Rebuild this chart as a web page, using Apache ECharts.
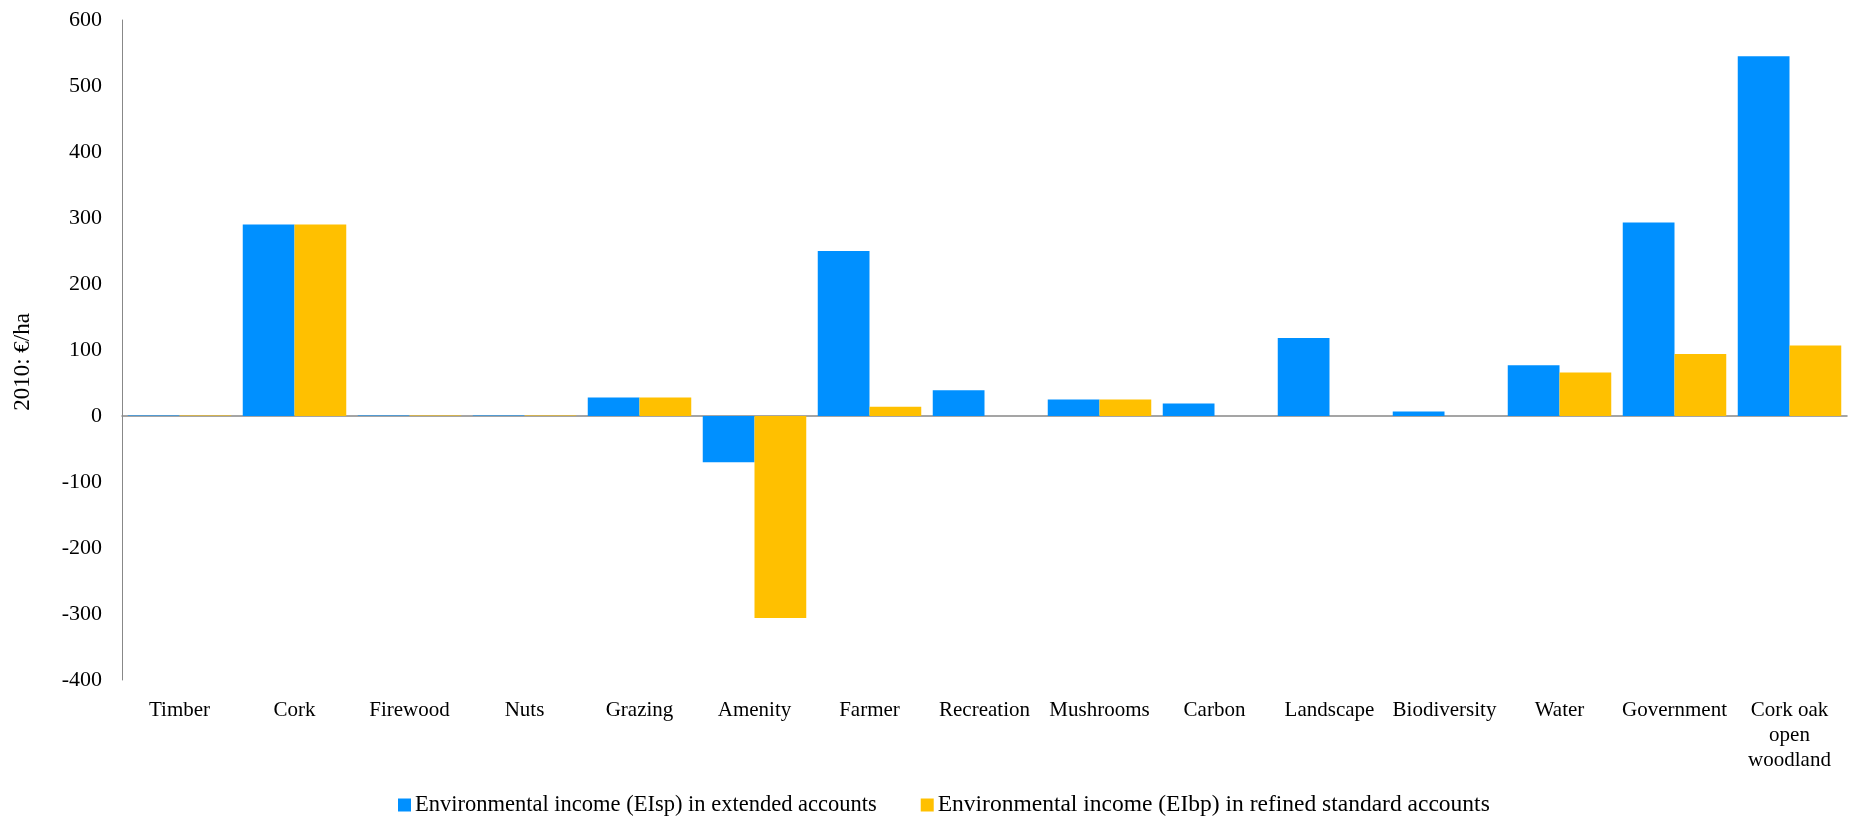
<!DOCTYPE html>
<html>
<head>
<meta charset="utf-8">
<script src="https://cdn.jsdelivr.net/npm/echarts@6/dist/echarts.min.js"></script>
<style>
html,body{margin:0;padding:0;background:#fff;}
#chart{width:1854px;height:816px;}
</style>
</head>
<body>
<div id="chart"></div>
<script>
const categories = ['Timber','Cork','Firewood','Nuts','Grazing','Amenity','Farmer','Recreation','Mushrooms','Carbon','Landscape','Biodiversity','Water','Government','Cork oak open woodland'];
const extendedValues = [0.8, 290, 0.8, 0.8, 28, -70, 250, 39, 25, 19, 118, 7, 77, 293, 545];
const refinedValues = [0.8, 290, 0.8, 0.8, 28, -306, 14, 0, 25, 0, 0, 0, 66, 94, 107];
const seriesNames = ['Environmental income (EIsp) in extended accounts','Environmental income (EIbp) in refined standard accounts'];
const yTicks = {min: -400, max: 600, interval: 100};
const yTitle = '2010: €/ha';

const font = 'Liberation Serif';
const chart = echarts.init(document.getElementById('chart'));
chart.setOption({
  animation: false,
  backgroundColor: '#ffffff',
  textStyle: {fontFamily: font, color: '#000'},
  grid: {left: 122, right: 7, top: 20, bottom: 136, containLabel: false},
  legend: {
    left: 393, top: 788,
    itemWidth: 13, itemHeight: 13, itemGap: 44,
    icon: 'rect',
    textStyle: {fontFamily: font, fontSize: 22.5, color: '#000', padding: [0,0,0,-1]},
    data: [
      {name: seriesNames[0]},
      {name: seriesNames[1], textStyle: {fontSize: 23.5}}
    ]
  },
  xAxis: [
    {
      type: 'category', data: categories, position: 'bottom',
      axisLine: {show: false, onZero: false},
      axisTick: {show: false},
      axisLabel: {
        fontFamily: font, fontSize: 21, color: '#000', margin: 18, lineHeight: 25,
        interval: 0,
        formatter: v => v === 'Cork oak open woodland' ? 'Cork oak\nopen\nwoodland' : v
      }
    },
    {
      type: 'category', data: categories, position: 'bottom',
      axisLine: {show: true, onZero: true, lineStyle: {color: '#888', width: 1.5}},
      axisTick: {show: false}, axisLabel: {show: false}
    }
  ],
  yAxis: {
    type: 'value', min: yTicks.min, max: yTicks.max, interval: yTicks.interval,
    name: yTitle, nameLocation: 'middle', nameGap: 88, nameRotate: 90,
    nameTextStyle: {fontFamily: font, fontSize: 23, color: '#000', padding: [0,0,0,-24]},
    axisLine: {show: true, lineStyle: {color: '#888', width: 1}},
    axisTick: {show: false},
    splitLine: {show: false},
    axisLabel: {fontFamily: font, fontSize: 22, color: '#000', margin: 20}
  },
  series: [
    {name: seriesNames[0], type: 'bar', data: extendedValues, xAxisIndex: 0,
     barGap: '0%', barCategoryGap: '10%', itemStyle: {color: '#0090FF'}},
    {name: seriesNames[1], type: 'bar', data: refinedValues, xAxisIndex: 0,
     barGap: '0%', barCategoryGap: '10%', itemStyle: {color: '#FFC000'}}
  ]
});
</script>
</body>
</html>
